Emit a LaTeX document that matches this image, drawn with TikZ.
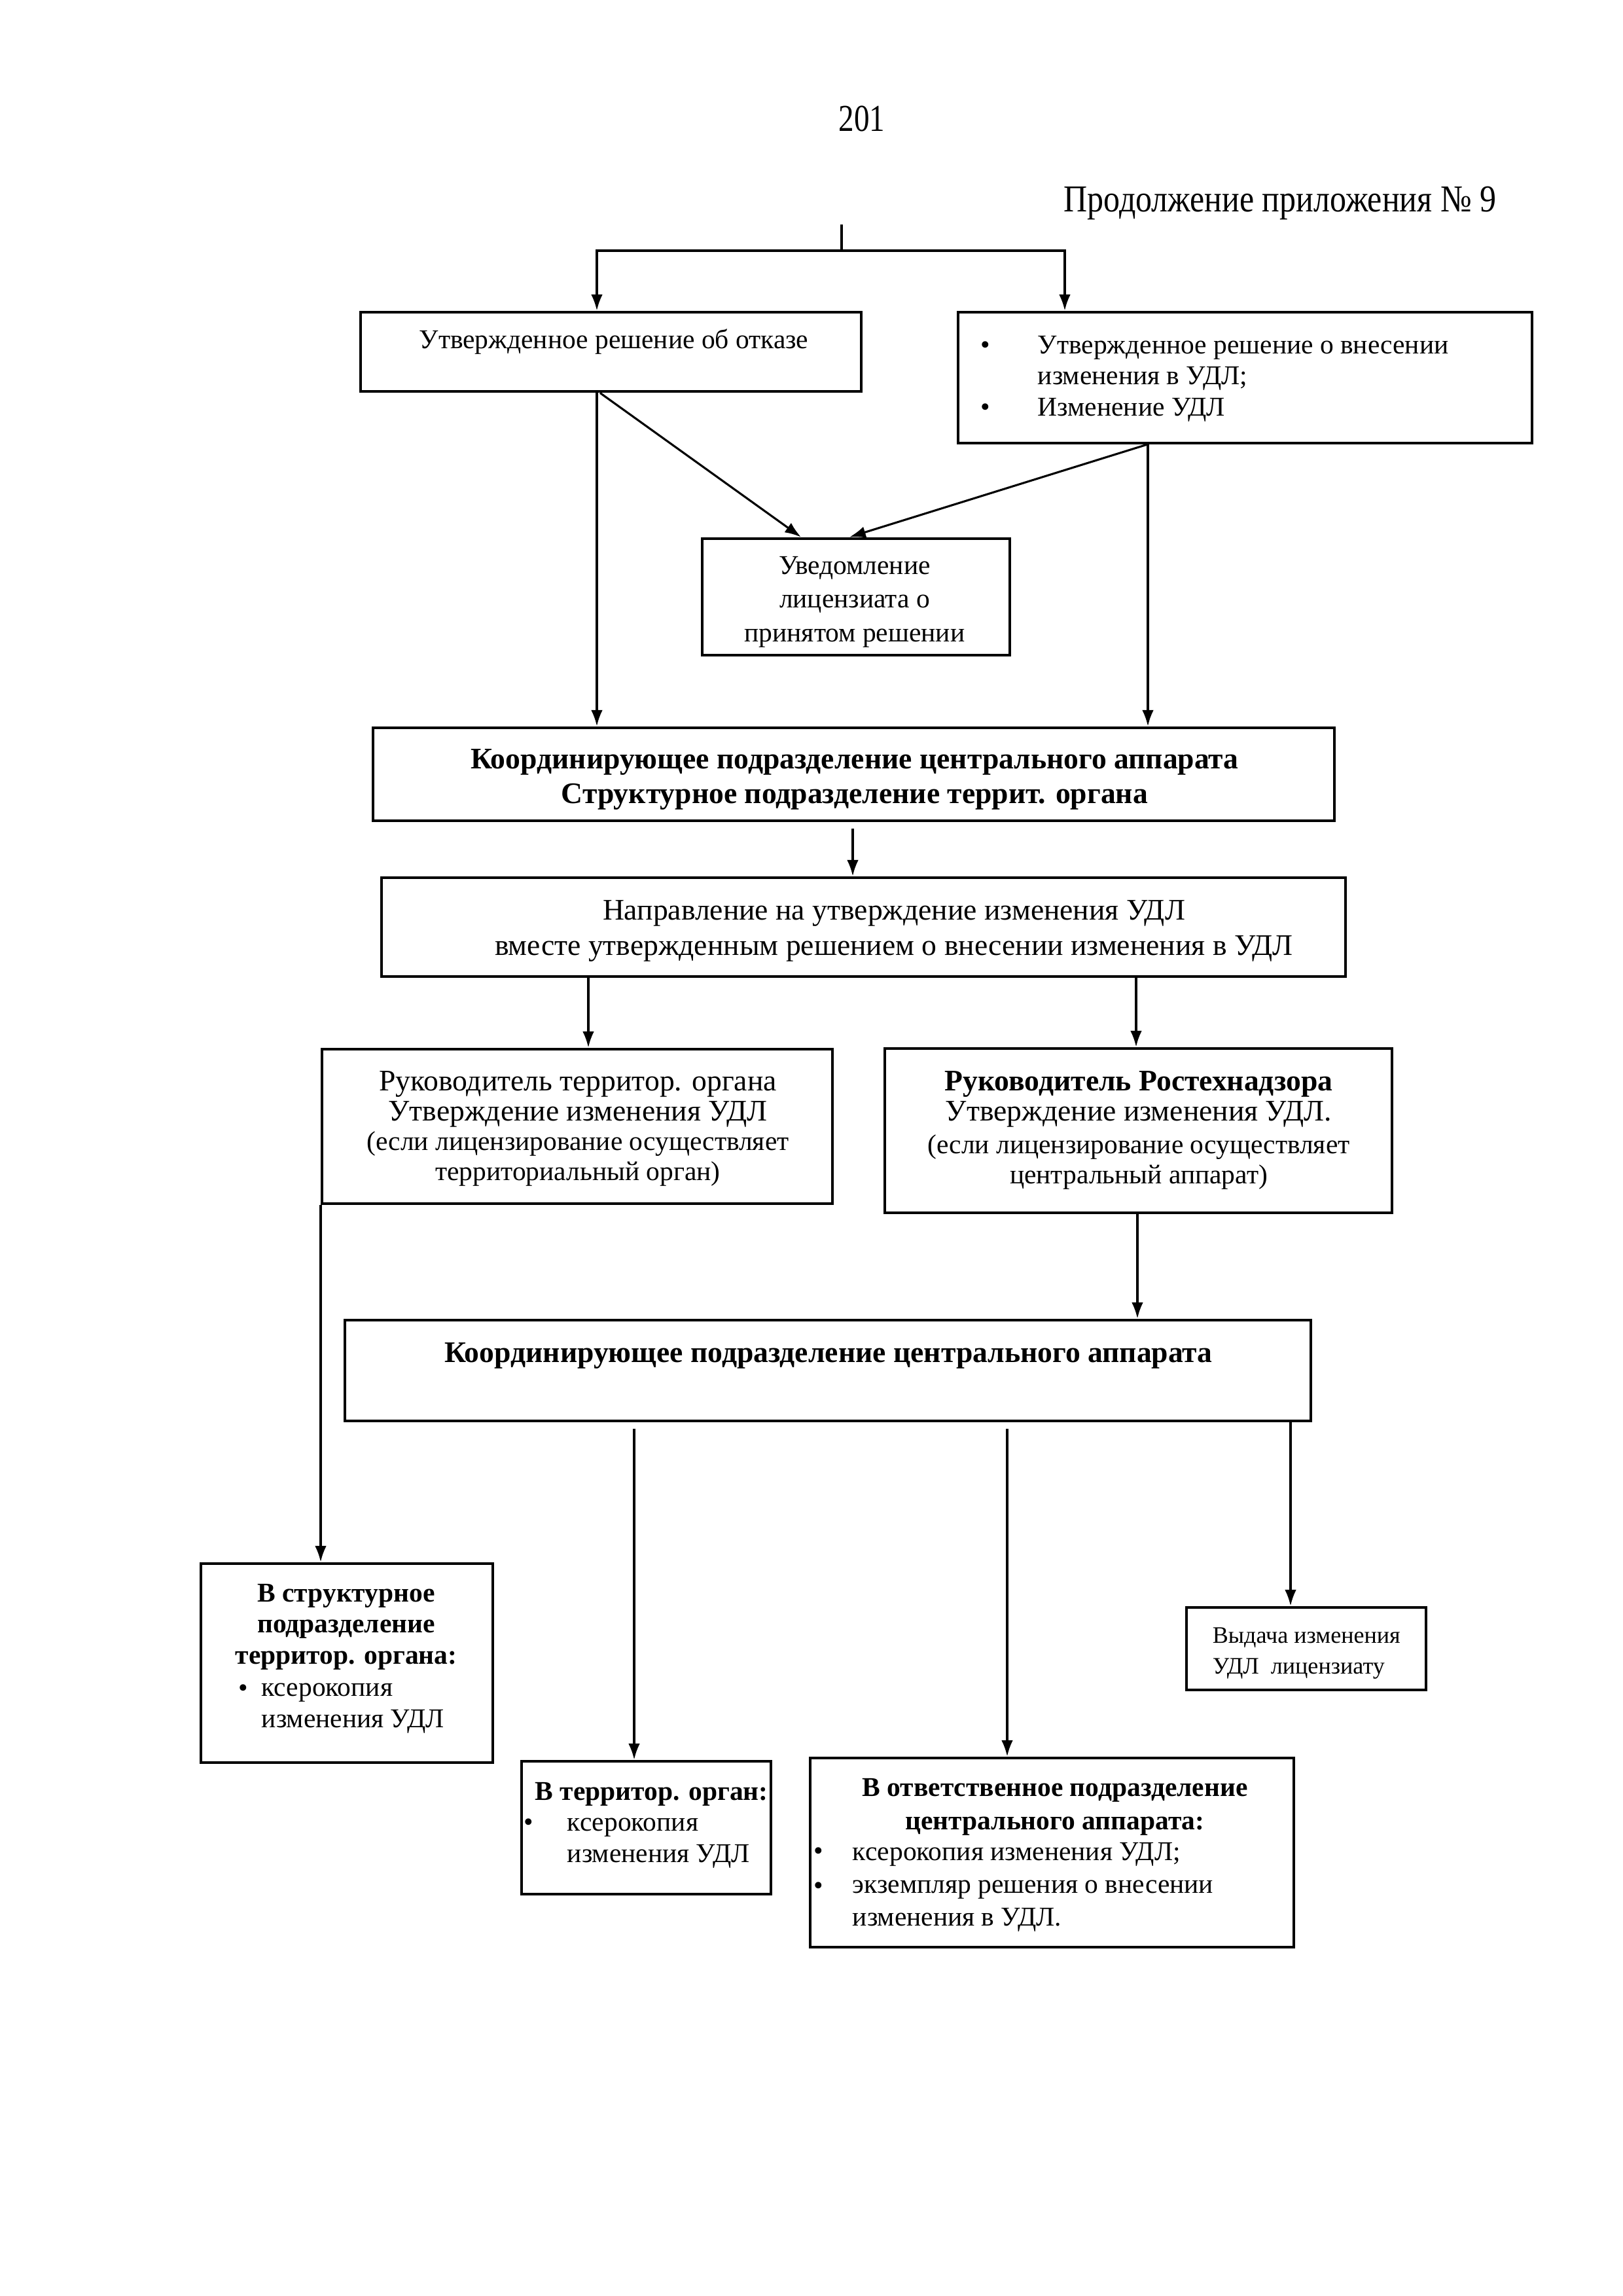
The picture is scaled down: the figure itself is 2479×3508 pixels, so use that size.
\documentclass[tikz,border=0pt]{standalone}
\usepackage{graphicx}
\usepackage{fontspec}
\setmainfont{Liberation Serif}
\usetikzlibrary{arrows.meta,fit}
\begin{document}
\begin{tikzpicture}[x=0.0847116mm,y=-0.0847116mm,
  box/.style={draw,line width=1.15pt,inner sep=0pt},
  conn/.style={line width=0.75pt},
  arr/.style={conn,-{Latex[length=2.1mm,width=1.5mm]}},
  txt/.style={inner sep=0pt,anchor=base,align=center},
  ltxt/.style={inner sep=0pt,anchor=base west,align=left},
  fA/.style={font=\fontsize{10}{11.4}\selectfont},
  fB/.style={font=\bfseries\fontsize{10}{11.4}\selectfont},
]
\useasboundingbox (0,0) rectangle (2479,3508);

% header
\node[txt,font=\fontsize{14}{16}\selectfont] (pg) at (1317,200) {\scalebox{0.81}[1]{201}};
\node[inner sep=0pt,anchor=base east,font=\fontsize{14}{16}\selectfont] (cont) at (2287,323) {\scalebox{0.86}[1]{Продолжение приложения № 9}};

% boxes
\node[box,fit={(551,477) (1316,598)}] (b1) {};
\node[box,fit={(1464,477) (2341,677)}] (b2) {};
\node[box,fit={(1073,823) (1543,1001)}] (b3) {};
\node[box,fit={(570,1112) (2039,1254)}] (b4) {};
\node[box,fit={(583,1341) (2056,1492)}] (b5) {};
\node[box,fit={(492,1603) (1272,1839)}] (b6) {};
\node[box,fit={(1352,1602) (2127,1853)}] (b7) {};
\node[box,fit={(527,2017) (2003,2171)}] (b8) {};
\node[box,fit={(307,2389) (753,2693)}] (b9) {};
\node[box,fit={(797,2691) (1178,2894)}] (b10) {};
\node[box,fit={(1238,2686) (1977,2975)}] (b11) {};
\node[box,fit={(1813,2456) (2179,2582)}] (b12) {};

% texts (multi-line nodes: anchor at the baseline of the last line)
\node[txt,fA] (t1) at (938,532) {Утвержденное решение об отказе};

\node[txt,fA] (t2b1) at (1506,540) {•};
\node[txt,fA] (t2b2) at (1506,635) {•};
\node[ltxt,fA] (t2) at (1585,635) {Утвержденное решение о внесении\\изменения в УДЛ;\\Изменение УДЛ};

\node[txt,font=\fontsize{10}{12.3}\selectfont] (t3) at (1306,980) {Уведомление\\лицензиата о\\принятом решении};

\node[txt,font=\bfseries\fontsize{11}{12.6}\selectfont] (t4) at (1306,1227) {Координирующее подразделение центрального аппарата\\Структурное подразделение террит. органа};

\node[txt,font=\fontsize{11}{13}\selectfont] (t5) at (1366,1459) {Направление на утверждение изменения УДЛ\\вместе утвержденным решением о внесении изменения в УДЛ};

\node[txt,font=\fontsize{11}{11}\selectfont] (t6) at (883,1712) {Руководитель территор. органа\\Утверждение изменения УДЛ};
\node[txt,font=\fontsize{10}{11}\selectfont] (t6s) at (883,1803) {(если лицензирование осуществляет\\территориальный орган)};

\node[txt,font=\fontsize{11}{11}\selectfont] (t7) at (1740,1712) {\textbf{Руководитель Ростехнадзора}\\Утверждение изменения УДЛ.};
\node[txt,font=\fontsize{10}{11}\selectfont] (t7s) at (1740,1808) {(если лицензирование осуществляет\\центральный аппарат)};

\node[txt,font=\bfseries\fontsize{11}{12.6}\selectfont] (t8) at (1266,2081) {Координирующее подразделение центрального аппарата};

\node[txt,fB] (t9) at (529,2542) {В структурное\\подразделение\\территор. органа:};
\node[txt,fA] (t9b) at (372,2592) {•};
\node[ltxt,fA] (t9l) at (399,2639) {ксерокопия\\изменения УДЛ};

\node[ltxt,fB] (t10) at (817,2750) {В территор. орган:};
\node[txt,fA] (t10b) at (808,2797) {•};
\node[ltxt,fA] (t10l) at (866,2845) {ксерокопия\\изменения УДЛ};

\node[txt,font=\bfseries\fontsize{10}{12.3}\selectfont] (t11) at (1612,2795) {В ответственное подразделение\\центрального аппарата:};
\node[txt,fA] (t11b1) at (1251,2841) {•};
\node[txt,fA] (t11b2) at (1251,2894) {•};
\node[ltxt,font=\fontsize{10}{12}\selectfont] (t11l) at (1302,2942) {ксерокопия изменения УДЛ;\\экземпляр решения о внесении\\изменения в УДЛ.};

\node[ltxt,font=\fontsize{8.7}{11.3}\selectfont] (t12) at (1852,2557) {Выдача изменения\\УДЛ\ \ лицензиату};

% connectors
\coordinate (top) at (1286,343);
\coordinate (split) at (1286,383);
\draw[conn] (top) -- (split);
\draw[arr] (split) -| (912,0 |- b1.north);
\draw[arr] (split) -| (1627,0 |- b2.north);
\draw[arr] (912,0 |- b1.south) -- (912,0 |- b4.north);
\draw[arr] (917,0 |- b1.south) -- (1224,0 |- b3.north);
\draw[arr] (1752,0 |- b2.south) -- (1298,0 |- b3.north);
\draw[arr] (1754,0 |- b2.south) -- (1754,0 |- b4.north);
\draw[arr,shorten <=0.8mm] (1303,0 |- b4.south) -- (1303,0 |- b5.north);
\draw[arr] (899,0 |- b5.south) -- (899,0 |- b6.north);
\draw[arr] (1736,0 |- b5.south) -- (1736,0 |- b7.north);
\draw[arr] (490,0 |- b6.south) -- (490,0 |- b9.north);
\draw[arr] (1738,0 |- b7.south) -- (1738,0 |- b8.north);
\draw[arr,shorten <=0.8mm] (969,0 |- b8.south) -- (969,0 |- b10.north);
\draw[arr,shorten <=0.8mm] (1539,0 |- b8.south) -- (1539,0 |- b11.north);
\draw[arr] (1972,0 |- b8.south) -- (1972,0 |- b12.north);
\end{tikzpicture}
\end{document}
